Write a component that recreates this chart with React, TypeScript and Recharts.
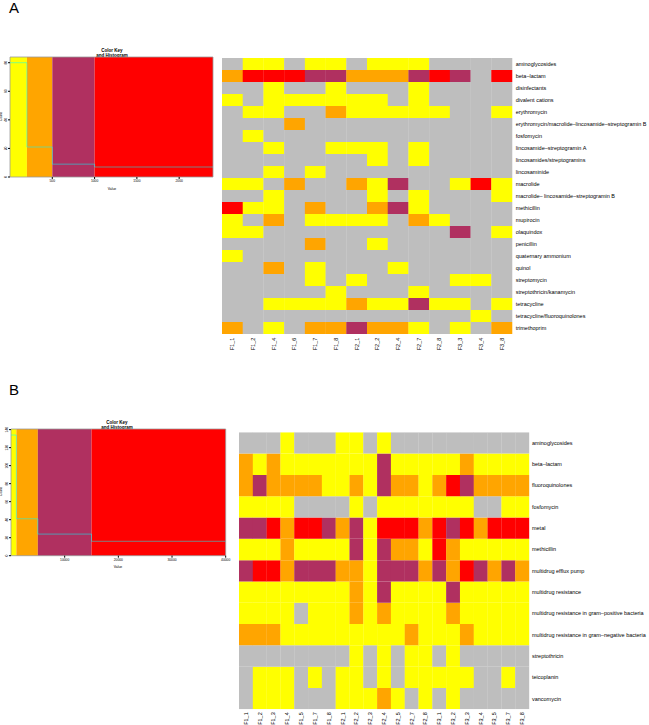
import React from 'react';
import { BarChart, Bar, XAxis, YAxis, Cell, ComposedChart, Line, ReferenceArea } from 'recharts';

const FONT = '"Liberation Sans", Arial, Helvetica, sans-serif';

// 0 = none (gray), 1 = yellow, 2 = orange, 3 = maroon, 4 = red
const CELL_COLORS = ['#BEBEBE', '#FFFF00', '#FFA500', '#B03060', '#FF0000'];
const KEY_COLORS = ['#FFFF00', '#FFA500', '#B03060', '#FF0000'];

// ---------- panel A ----------
const samplesA = ['F1_1', 'F1_2', 'F1_4', 'F1_6', 'F1_7', 'F1_8', 'F2_1', 'F2_2', 'F2_4', 'F2_7', 'F2_8', 'F3_3', 'F3_4', 'F3_8'];
const classesA = [
  'aminoglycosides',
  'beta\u2013lactam',
  'disinfectants',
  'divalent cations',
  'erythromycin',
  'erythromycin/macrolide\u2013lincosamide\u2013streptogramin B',
  'fosfomycin',
  'lincosamide\u2013streptogramin A',
  'lincosamides/streptogramins',
  'lincosaminide',
  'macrolide',
  'macrolide\u2013 lincosamide\u2013streptogramin B',
  'methicillin',
  'mupirocin',
  'olaquindox',
  'penicillin',
  'quaternary ammonium',
  'quinol',
  'streptomycin',
  'streptothricin/kanamycin',
  'tetracycline',
  'tetracycline/fluoroquinolones',
  'trimethoprim',
];
const levelsA = [
  '01101101110000',
  '24443322234304',
  '00100100010000',
  '10111111010000',
  '01100211111001',
  '00020000000000',
  '01000000000000',
  '00100111010000',
  '00000001010000',
  '00101000000000',
  '11020021300141',
  '00100001010001',
  '41102002310000',
  '10201111021000',
  '11000000000301',
  '00002001000000',
  '10000000000000',
  '00201000100000',
  '00001010000110',
  '00000100010000',
  '00111121131101',
  '00000000000010',
  '20102232210102',
];
const keyBreaksA = [0, 200, 500, 1000, 2400];
const keyCountsA = [80, 21, 9, 7];
const keyXTicksA = [500, 1000, 1500, 2000];
const keyYTicksA = [0, 20, 40, 60, 80];

// ---------- panel B ----------
const samplesB = ['F1_1', 'F1_2', 'F1_3', 'F1_4', 'F1_5', 'F1_7', 'F1_8', 'F2_1', 'F2_2', 'F2_3', 'F2_4', 'F2_5', 'F2_7', 'F2_8', 'F3_1', 'F3_2', 'F3_3', 'F3_4', 'F3_5', 'F3_7', 'F3_8'];
const classesB = [
  'aminoglycosides',
  'beta\u2013lactam',
  'fluoroquinolones',
  'fosfomycin',
  'metal',
  'methicillin',
  'multidrug efflux pump',
  'multidrug resistance',
  'multidrug resistance in gram\u2013positive bacteria',
  'multidrug resistance in gram\u2013negative bacteria',
  'streptothricin',
  'teicoplanin',
  'vancomycin',
];
const levelsB = [
  '000100011010000000000',
  '212111111131111121111',
  '232222112132212432222',
  '111100001011111110011',
  '334244323144424342444',
  '111211113132214211111',
  '344233322133323243232',
  '111111112131111311111',
  '111101112121111211111',
  '222111111111211121111',
  '000000001010110100000',
  '011101011010111110010',
  '011100011121010100000',
];
const keyBreaksB = [0, 1000, 5000, 15000, 40000];
const keyCountsB = [134, 41, 24, 16];
const keyXTicksB = [10000, 20000, 30000, 40000];
const keyYTicksB = [0, 20, 40, 60, 80, 100, 120, 140];

const SampleTick = (props: any) => {
  const { x, y, payload } = props;
  return (
    <text
      transform={`translate(${x},${y}) rotate(-90)`}
      textAnchor="end"
      dy="0.35em"
      fontSize={5.5}
      fontFamily={FONT}
      fill="#000"
    >
      {payload.value}
    </text>
  );
};

const CountTick = (props: any) => {
  const { x, y, payload } = props;
  return (
    <text
      transform={`translate(${x + 1},${y}) rotate(-90)`}
      textAnchor="middle"
      fontSize={3.3}
      fontFamily={FONT}
      fill="#000"
    >
      {payload.value}
    </text>
  );
};

function Heatmap({ samples, classes, levels, plotW, plotH, labelW, top, labelGap }: any) {
  const n = classes.length;
  const data = samples.map((s: string) => {
    const d: any = { sample: s };
    classes.forEach((_: string, r: number) => {
      d['c' + r] = 1;
    });
    return d;
  });
  // stacked from the bottom, so the last class goes first
  const order = classes.map((_: string, i: number) => n - 1 - i);
  const ticks = classes.map((_: string, i: number) => i + 0.5);
  const ClassTick = (props: any) => {
    const { x, y, payload } = props;
    return (
      <text x={x} y={y} dy="0.35em" textAnchor="start" fontSize={5.5} fontFamily={FONT} fill="#000">
        {classes[n - 1 - Math.floor(payload.value)]}
      </text>
    );
  };
  return (
    <BarChart
      width={plotW + labelW}
      height={top + plotH + 22}
      data={data}
      margin={{ top, right: 0, bottom: 0, left: 0 }}
      barCategoryGap={0}
      barGap={0}
    >
      <XAxis
        dataKey="sample"
        interval={0}
        tickLine={false}
        axisLine={false}
        tickSize={0}
        tickMargin={labelGap}
        height={22}
        tick={<SampleTick />}
      />
      <YAxis
        orientation="right"
        type="number"
        domain={[0, n]}
        ticks={ticks}
        interval={0}
        allowDataOverflow
        width={labelW}
        tickLine={false}
        axisLine={false}
        tickSize={0}
        tickMargin={labelGap}
        tick={<ClassTick />}
      />
      {order.map((r: number) => (
        <Bar key={r} dataKey={'c' + r} stackId="s" isAnimationActive={false}>
          {samples.map((_: string, c: number) => (
            <Cell key={c} fill={CELL_COLORS[Number(levels[r][c])]} />
          ))}
        </Bar>
      ))}
    </BarChart>
  );
}

function ColorKey({ breaks, counts, xTicks, yTicks, width, height, margin, yAxisW }: any) {
  const yMax = Math.max(...counts) * 1.05;
  const steps = breaks.map((b: number, i: number) => ({
    x: b,
    count: counts[Math.min(i, counts.length - 1)],
  }));
  const x0 = breaks[0];
  const x1 = breaks[breaks.length - 1];
  return (
    <ComposedChart width={width} height={height} data={steps} margin={margin}>
      <XAxis
        type="number"
        dataKey="x"
        domain={[x0, x1]}
        ticks={xTicks}
        interval={0}
        allowDataOverflow
        axisLine={false}
        tickSize={2}
        tickMargin={1}
        height={10}
        stroke="#000"
        tick={{ fontSize: 3.3, fill: '#000', fontFamily: FONT }}
      />
      <YAxis
        type="number"
        domain={[0, yMax]}
        ticks={yTicks}
        interval={0}
        allowDataOverflow
        axisLine={false}
        tickSize={2}
        tickMargin={2}
        width={yAxisW}
        stroke="#000"
        tick={<CountTick />}
      />
      {counts.map((_: number, i: number) => (
        <ReferenceArea
          key={i}
          x1={breaks[i]}
          x2={breaks[i + 1]}
          y1={0}
          y2={yMax}
          fill={KEY_COLORS[i]}
          fillOpacity={1}
          stroke="none"
        />
      ))}
      <ReferenceArea x1={x0} x2={x1} y1={0} y2={yMax} fill="none" stroke="#9a9a9a" strokeWidth={0.8} />
      <Line
        type="stepAfter"
        dataKey="count"
        stroke="#00FFFF"
        strokeOpacity={0.5}
        strokeWidth={1}
        dot={false}
        activeDot={false}
        isAnimationActive={false}
      />
    </ComposedChart>
  );
}

const txt = (extra: React.CSSProperties): React.CSSProperties => ({
  position: 'absolute',
  fontFamily: FONT,
  color: '#000',
  whiteSpace: 'nowrap',
  lineHeight: 1,
  ...extra,
});

export default function App() {
  return (
    <div
      style={{
        position: 'absolute',
        left: 0,
        top: 0,
        width: 649,
        height: 725,
        overflow: 'hidden',
        background: '#fff',
        fontFamily: FONT,
      }}
    >
      <div style={txt({ left: 9, top: 0, fontSize: 15 })}>A</div>
      <div style={txt({ left: 9, top: 382, fontSize: 15 })}>B</div>

      {/* panel A color key */}
      <div style={txt({ left: 62, width: 100, top: 48, fontSize: 4.5, fontWeight: 'bold', textAlign: 'center', lineHeight: '5px' })}>
        Color Key
        <br />
        and Histogram
      </div>
      <div style={{ position: 'absolute', left: 0, top: 40 }}>
        <ColorKey
          breaks={keyBreaksA}
          counts={keyCountsA}
          xTicks={keyXTicksA}
          yTicks={keyYTicksA}
          width={220}
          height={160}
          yAxisW={10}
          margin={{ top: 17, right: 7, bottom: 13, left: 0 }}
        />
      </div>
      <div style={txt({ left: 102, width: 20, top: 187.5, fontSize: 3.4, textAlign: 'center' })}>Value</div>
      <div style={txt({ left: -8, width: 20, top: 115, fontSize: 3.4, textAlign: 'center', transform: 'rotate(-90deg)' })}>Count</div>

      {/* panel A heatmap */}
      <div style={{ position: 'absolute', left: 222, top: 50 }}>
        <Heatmap samples={samplesA} classes={classesA} levels={levelsA} plotW={290} plotH={276} labelW={137} top={8} labelGap={3.7} />
      </div>

      {/* panel B color key */}
      <div style={txt({ left: 67, width: 100, top: 419.5, fontSize: 4.5, fontWeight: 'bold', textAlign: 'center', lineHeight: '5px' })}>
        Color Key
        <br />
        and Histogram
      </div>
      <div style={{ position: 'absolute', left: 0, top: 410 }}>
        <ColorKey
          breaks={keyBreaksB}
          counts={keyCountsB}
          xTicks={keyXTicksB}
          yTicks={keyYTicksB}
          width={232}
          height={170}
          yAxisW={11}
          margin={{ top: 19, right: 6.3, bottom: 14.3, left: 0 }}
        />
      </div>
      <div style={txt({ left: 108, width: 20, top: 566, fontSize: 3.4, textAlign: 'center' })}>Value</div>
      <div style={txt({ left: -8, width: 20, top: 490, fontSize: 3.4, textAlign: 'center', transform: 'rotate(-90deg)' })}>Count</div>

      {/* panel B heatmap */}
      <div style={{ position: 'absolute', left: 239, top: 424 }}>
        <Heatmap samples={samplesB} classes={classesB} levels={levelsB} plotW={290} plotH={277} labelW={120} top={8.3} labelGap={3} />
      </div>
    </div>
  );
}
